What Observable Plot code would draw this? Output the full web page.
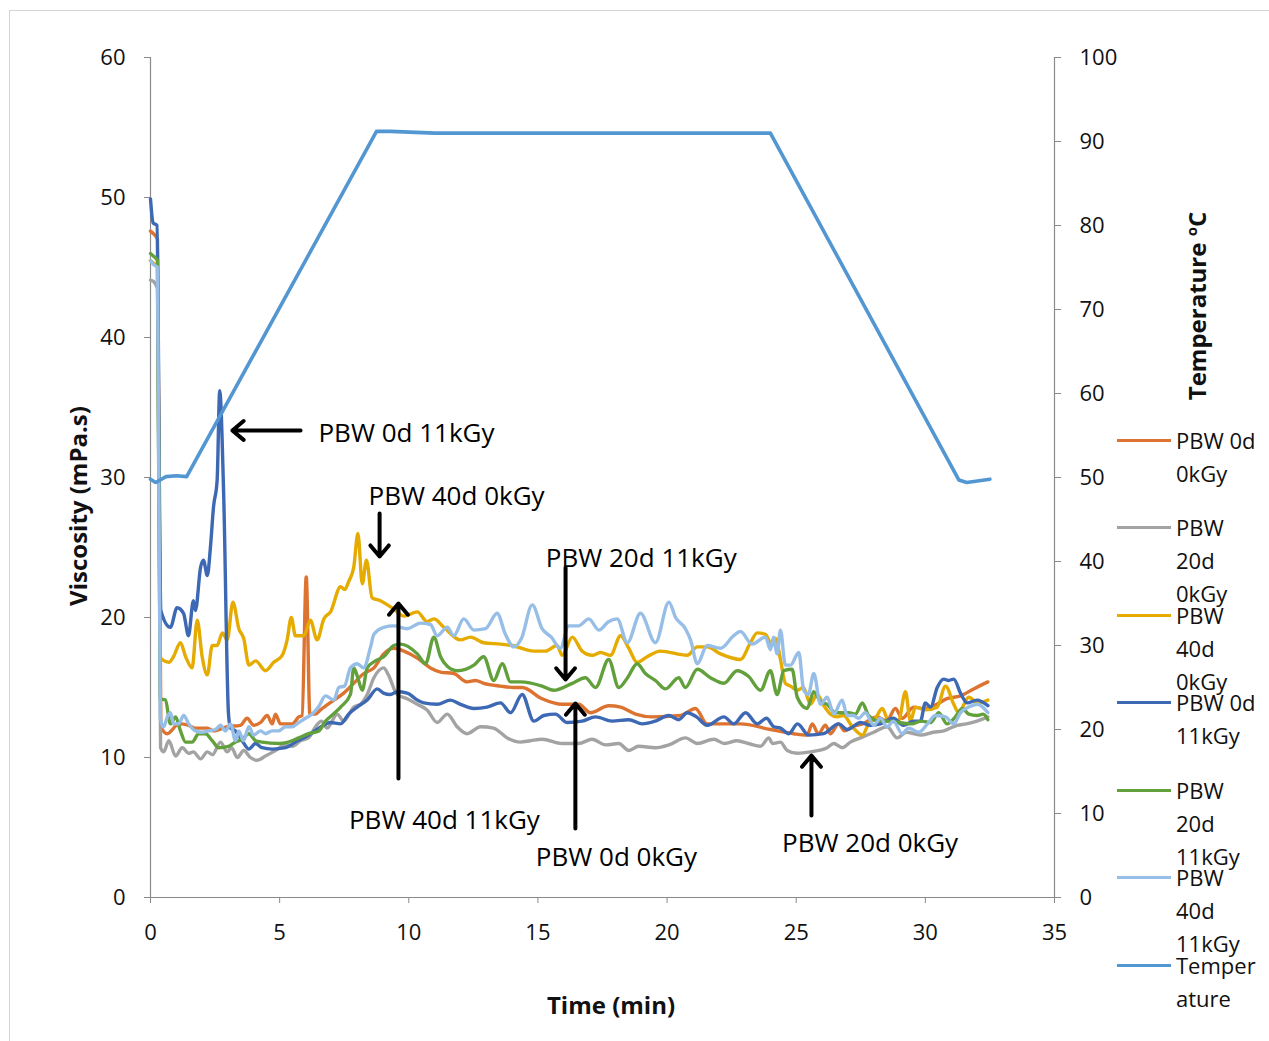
<!DOCTYPE html>
<html><head><meta charset="utf-8">
<script src="https://cdn.jsdelivr.net/npm/d3@7"></script>
<script src="https://cdn.jsdelivr.net/npm/@observablehq/plot@0.6"></script>
<style>
body{margin:0;background:#fff;font-family:"Open Sans",sans-serif;color:#111;}
#wrap{position:relative;width:1269px;height:1041px;overflow:hidden;}
#border{position:absolute;left:9px;top:10px;width:1280px;height:1050px;border:1px solid #d4d4d4;box-sizing:border-box;}
#chart{position:absolute;left:0;top:0;}
.ttl{position:absolute;font-weight:bold;font-size:24px;white-space:nowrap;line-height:1;}
.leg{position:absolute;left:1117px;}
.leg .sw{position:absolute;left:0;width:54px;height:3px;}
.leg .tx{position:absolute;left:59px;font-size:22px;line-height:33px;white-space:nowrap;}
</style></head>
<body>
<div id="wrap">
<div id="border"></div>
<div id="chart"></div>
<div class="ttl" id="ytitle" style="left:78px;top:506px;transform:translate(-50%,-50%) rotate(-90deg);">Viscosity (mPa.s)</div>
<div class="ttl" id="xtitle" style="left:611px;top:1005px;transform:translate(-50%,-50%);">Time (min)</div>
<div class="ttl" id="y2title" style="left:1196px;top:306px;transform:translate(-50%,-50%) rotate(-90deg);">Temperature <sup style="font-size:15px">o</sup>C</div>
<div id="legend"></div>
</div>
<script>
// ---- data ----
const seriesNames = ["PBW 0d 0kGy","PBW 20d 0kGy","PBW 40d 0kGy","PBW 0d 11kGy","PBW 20d 11kGy","PBW 40d 11kGy"];
const seriesColors = ["#DD7331","#A3A3A3","#E5AB00","#3D68B4","#62A03C","#96BEE6"];
const legendLabels = ["PBW 0d<br>0kGy","PBW<br>20d<br>0kGy","PBW<br>40d<br>0kGy","PBW 0d<br>11kGy","PBW<br>20d<br>11kGy","PBW<br>40d<br>11kGy","Temper<br>ature"];
const tempColor = "#5296D2";

const pbw0d0k = [[0,47.6],[0.12,47.4],[0.27,47],[0.4,12.2],[0.65,11.7],[1.1,12.4],[1.48,12.3],[1.74,12.1],[2.2,12.1],[2.44,11.9],[2.97,12.2],[3.48,12.3],[3.74,12.8],[4.0,12.3],[4.26,12.5],[4.52,13.0],[4.71,12.4],[4.84,13.1],[5.03,12.4],[5.49,12.4],[5.74,12.9],[5.87,13.0],[6.03,22.9],[6.17,13.1],[6.39,13.1],[6.58,13.4],[7.1,14.1],[7.48,14.6],[7.87,15.3],[8.26,16.0],[8.65,16.4],[9.03,17.4],[9.42,17.8],[9.81,17.6],[10.33,17.1],[10.84,16.4],[11.23,16.1],[11.74,16.0],[12.26,15.4],[12.58,15.5],[12.9,15.3],[13.55,15.1],[14.07,15.0],[14.39,15.0],[15.16,14.2],[15.94,13.8],[16.58,13.8],[17.03,13.2],[17.74,13.7],[18.2,13.6],[18.78,13.1],[19.42,12.9],[20.52,13.0],[21.1,13.5],[21.55,12.4],[22.84,12.4],[24.0,12.0],[24.9,11.7],[25.42,11.6],[25.62,12.4],[25.86,11.7],[26.13,12.3],[26.33,11.7],[26.64,12.4],[26.87,11.9],[27.17,12.2],[27.57,12.4],[28.13,12.9],[28.5,12.6],[28.84,13.5],[29.1,12.8],[29.55,13.6],[29.93,13.5],[30.33,13.7],[30.84,14.2],[31.36,14.4],[31.87,14.9],[32.42,15.4]];

const pbw20d0k = [[0,44.1],[0.12,44.0],[0.27,43.5],[0.39,10.7],[0.51,10.4],[0.71,11.2],[0.97,10.1],[1.23,10.7],[1.48,10.3],[1.66,10.4],[1.94,9.9],[2.2,10.4],[2.4,10.2],[2.71,11.1],[2.97,10.4],[3.14,10.7],[3.36,10.0],[3.61,10.5],[3.87,10.0],[4.13,9.8],[4.45,10.1],[4.84,10.5],[5.23,10.9],[5.5,10.8],[5.81,11.2],[6.12,11.4],[6.39,12.2],[6.62,12.6],[6.84,12.1],[7.23,13.1],[7.48,12.6],[7.87,13.6],[8.13,13.8],[8.39,14.5],[8.65,15.7],[9.03,16.4],[9.21,15.9],[9.55,14.5],[9.94,14.2],[10.33,13.8],[10.71,13.4],[11.1,12.5],[11.49,13.1],[11.87,12.2],[12.26,11.7],[12.78,12.2],[13.28,12.1],[13.81,11.4],[14.32,11.1],[14.71,11.2],[15.16,11.3],[15.94,11.0],[16.58,11.0],[17.1,11.3],[17.62,10.9],[18.13,11.0],[18.52,10.5],[18.9,10.8],[19.55,10.7],[20.07,10.9],[20.71,11.4],[21.17,11.0],[21.81,11.3],[22.22,11.0],[22.71,11.2],[23.15,11.0],[23.62,10.8],[23.94,11.4],[24.08,11.0],[24.39,11.1],[24.65,10.5],[25.04,10.3],[25.55,10.4],[26.2,10.7],[26.45,11.0],[26.79,10.7],[27.1,11.1],[27.49,11.4],[28.0,11.8],[28.52,12.2],[28.91,11.4],[29.27,11.8],[29.81,11.6],[30.31,11.8],[30.71,11.9],[31.23,12.3],[31.59,12.4],[32.0,12.6],[32.42,12.9]];

const pbw40d0k = [[0,45.5],[0.12,45.3],[0.27,45],[0.38,17.2],[0.45,17.0],[0.71,16.8],[0.89,17.2],[1.16,18.2],[1.36,17.2],[1.61,16.4],[1.81,19.8],[2.0,17.2],[2.2,15.9],[2.39,18.0],[2.58,18.0],[2.78,18.9],[2.97,18.4],[3.19,21.1],[3.42,19.2],[3.61,18.5],[3.81,16.6],[4.07,16.9],[4.45,16.2],[4.77,16.8],[5.1,17.3],[5.29,18.4],[5.45,20.0],[5.61,18.7],[5.94,18.7],[6.19,19.8],[6.45,18.4],[6.71,19.9],[6.97,20.4],[7.36,22.2],[7.52,22.0],[7.68,22.6],[7.87,23.6],[8.03,26.0],[8.2,22.4],[8.36,24.1],[8.58,21.4],[8.9,21.2],[9.42,20.6],[9.81,20.1],[10.33,20.4],[10.71,19.7],[10.97,19.9],[11.36,19.3],[12.0,18.4],[12.39,18.6],[12.9,18.2],[13.55,18.1],[14.0,18.0],[14.84,17.6],[15.29,17.6],[15.74,18.0],[15.94,17.3],[16.33,18.6],[16.71,17.6],[17.1,17.3],[17.42,17.5],[17.81,17.3],[18.2,18.7],[18.52,17.8],[18.84,16.8],[19.23,17.2],[19.74,17.6],[20.78,17.3],[21.17,17.9],[21.55,17.9],[22.07,17.4],[22.84,17.0],[23.23,18.2],[23.49,18.9],[23.81,18.8],[24.07,18.0],[24.2,18.5],[24.39,17.0],[24.58,15.3],[24.78,15.1],[25.04,14.8],[25.28,15.0],[25.55,13.8],[25.81,14.5],[26.07,13.7],[26.33,13.1],[26.58,12.9],[26.83,13.0],[27.17,12.2],[27.56,11.6],[27.8,12.4],[28.07,12.8],[28.33,13.5],[28.58,12.6],[28.96,12.6],[29.23,14.7],[29.42,12.6],[29.62,13.6],[30.0,13.4],[30.46,13.6],[30.78,15.1],[31.1,13.8],[31.29,13.2],[31.68,14.3],[32.02,13.9],[32.42,14.1]];

const pbw0d11k = [[0,49.9],[0.1,48.2],[0.25,48.0],[0.4,20.5],[0.77,19.3],[1.03,20.7],[1.28,20.3],[1.47,18.7],[1.66,21.2],[1.74,20.5],[1.94,23.6],[2.05,24.1],[2.2,23.0],[2.32,25.0],[2.44,27.9],[2.58,29.8],[2.68,36.2],[2.83,29.0],[3.02,13.1],[3.1,12.1],[3.29,11.9],[3.55,11.2],[3.81,10.6],[4.07,11.0],[4.32,10.7],[4.71,10.6],[5.23,10.7],[5.61,11.1],[6.13,11.6],[6.52,12.1],[6.97,12.5],[7.36,12.4],[7.67,13.1],[8.0,13.6],[8.39,14.1],[8.78,14.9],[9.02,14.6],[9.29,14.5],[9.55,14.7],[9.94,14.6],[10.33,14.1],[10.58,13.9],[11.1,13.8],[11.61,14.1],[12.0,13.8],[12.52,13.5],[13.03,13.6],[13.55,13.9],[13.94,13.2],[14.39,14.5],[14.84,12.6],[15.23,13.0],[15.68,13.1],[16.13,12.5],[16.71,12.6],[17.23,12.9],[17.87,12.6],[18.52,12.7],[19.04,12.4],[19.55,12.6],[20.07,13.0],[20.45,12.7],[20.78,13.2],[21.14,12.9],[21.55,12.3],[22.2,12.9],[22.58,12.4],[23.04,13.2],[23.49,12.4],[23.85,12.8],[24.13,12.2],[24.39,12.1],[24.71,11.7],[25.05,12.4],[25.48,11.6],[26.06,11.7],[26.64,12.4],[26.98,12.0],[27.49,12.5],[27.87,12.3],[28.26,12.4],[28.76,12.8],[29.15,12.3],[29.54,12.6],[29.81,12.6],[30.0,13.9],[30.2,13.6],[30.46,15.0],[30.71,15.6],[30.9,15.5],[31.1,15.6],[31.36,14.6],[31.62,13.9],[32.0,14.1],[32.42,13.7]];

const pbw20d11k = [[0,46.0],[0.12,45.8],[0.27,45.5],[0.38,14.2],[0.58,14.1],[0.77,12.4],[0.97,12.9],[1.16,11.9],[1.36,11.1],[1.61,11.1],[1.87,11.7],[2.13,11.7],[2.39,11.2],[2.64,10.7],[3.02,10.8],[3.29,11.1],[3.55,11.3],[3.81,11.7],[4.07,11.2],[4.32,11.1],[4.97,11.0],[5.34,11.1],[5.74,11.4],[6.12,11.7],[6.52,11.9],[6.78,12.6],[7.08,13.1],[7.36,13.6],[7.74,14.5],[7.87,16.4],[8.01,15.8],[8.2,14.8],[8.39,16.4],[8.71,16.9],[9.03,17.2],[9.42,18.0],[9.68,18.1],[10.33,17.4],[10.65,16.7],[10.97,18.6],[11.23,17.2],[11.5,16.5],[11.87,16.2],[12.52,16.6],[12.9,17.2],[13.29,15.5],[13.62,16.7],[13.94,15.4],[14.32,15.4],[15.16,15.1],[15.61,14.8],[16.33,15.3],[16.84,15.7],[17.23,15.0],[17.74,17.0],[18.13,15.0],[18.47,15.7],[18.84,16.7],[19.16,16.0],[19.55,15.5],[19.94,14.9],[20.45,15.7],[20.71,15.0],[21.17,16.3],[21.68,15.7],[22.2,15.3],[22.71,16.2],[23.15,15.8],[23.62,14.8],[24.0,16.2],[24.26,14.5],[24.52,16.2],[24.84,16.3],[25.04,14.3],[25.42,13.5],[25.68,14.7],[25.94,14.0],[26.2,13.8],[26.52,13.2],[27.03,13.2],[27.29,13.1],[27.56,13.9],[27.8,13.0],[28.2,12.6],[28.57,12.6],[28.97,12.5],[29.46,12.4],[29.85,12.6],[30.2,12.5],[30.52,13.2],[30.84,12.4],[31.16,12.9],[31.43,13.5],[31.68,13.1],[32.0,13.0],[32.24,13.1],[32.42,12.7]];

const pbw40d11k = [[0,45.5],[0.12,45.2],[0.27,45.0],[0.38,12.8],[0.51,12.2],[0.65,12.9],[0.77,13.2],[0.9,12.4],[1.08,12.4],[1.29,13.0],[1.48,12.4],[1.74,11.9],[2.0,11.8],[2.24,11.9],[2.52,12.0],[2.71,12.3],[2.9,11.9],[3.1,12.4],[3.29,11.2],[3.42,11.9],[3.6,11.2],[3.81,12.2],[3.99,11.6],[4.26,11.9],[4.45,11.7],[4.71,11.9],[4.96,11.9],[5.23,12.2],[5.49,12.2],[5.74,12.5],[6.0,12.8],[6.26,13.1],[6.5,13.6],[6.78,14.4],[7.1,14.1],[7.29,15.0],[7.51,15.1],[7.74,16.4],[8.0,16.7],[8.25,16.4],[8.52,17.9],[8.65,18.8],[9.03,19.3],[9.42,19.4],[9.94,19.2],[10.45,19.6],[10.84,19.5],[11.1,18.7],[11.49,19.3],[11.74,18.7],[12.13,19.9],[12.52,19.1],[12.97,19.2],[13.42,20.3],[13.74,18.8],[14.07,17.9],[14.36,18.5],[14.78,20.9],[15.16,19.2],[15.52,18.6],[15.87,17.8],[16.19,19.4],[16.57,19.4],[16.97,19.9],[17.36,19.1],[17.73,19.7],[18.07,19.9],[18.46,18.2],[18.97,20.3],[19.55,18.2],[20.07,21.1],[20.33,20.0],[20.71,19.2],[20.91,18.4],[21.17,16.7],[21.55,18.0],[22.07,17.8],[22.58,18.7],[22.84,19.0],[23.29,18.1],[23.81,18.6],[24.0,17.7],[24.12,18.6],[24.26,17.4],[24.39,19.1],[24.58,16.6],[24.78,16.6],[25.1,17.5],[25.29,14.8],[25.47,14.5],[25.68,16.0],[25.94,13.8],[26.2,14.3],[26.45,13.1],[26.78,14.1],[26.97,13.0],[27.22,13.0],[27.41,12.8],[27.68,13.2],[28.0,12.3],[28.26,12.8],[28.52,12.2],[28.76,12.6],[29.1,11.7],[29.35,12.1],[29.75,11.8],[30.08,12.4],[30.39,13.0],[30.78,12.9],[31.1,12.4],[31.36,13.2],[31.68,13.6],[32.02,13.8],[32.42,13.2]];

const temperature = [[0,49.8],[0.2,49.4],[0.6,50.1],[1.0,50.2],[1.4,50.1],[8.75,91.2],[9.3,91.2],[11,91.0],[24.0,91.0],[31.3,49.7],[31.6,49.4],[32.5,49.8]];

const xTicks = [0,5,10,15,20,25,30,35];
const yTicks = [0,10,20,30,40,50,60];
const tempTicks = [0,10,20,30,40,50,60,70,80,90,100];

// annotation labels (data coordinates: time, viscosity; label centre)
const noteText = ["PBW 0d 11kGy","PBW 40d 0kGy","PBW 20d 11kGy","PBW 40d 11kGy","PBW 0d 0kGy","PBW 20d 0kGy"];
const noteTextT = [9.91,11.85,19.0,11.38,18.04,27.86];
const noteTextV = [33.14,28.64,24.21,5.5,2.86,3.86];
const arrowT1 = [5.81,8.87,16.07,9.6,16.45,25.59];
const arrowV1 = [33.36,27.43,23.57,8.5,4.93,5.86];
const arrowT2 = [3.17,8.87,16.07,9.6,16.45,25.59];
const arrowV2 = [33.36,24.36,15.57,21.0,13.86,10.14];

// ---- build ----
const T2V = 60/100; // temperature axis mapped onto viscosity axis
const allSeries = [pbw0d0k,pbw20d0k,pbw40d0k,pbw0d11k,pbw20d11k,pbw40d11k];
const rows = allSeries.flatMap((s,i)=>s.map(([t,v])=>({name:seriesNames[i],t,v})));
const tempRows = temperature.map(([t,T])=>({t,T}));
const notes = noteText.map((text,i)=>({text,t:noteTextT[i],v:noteTextV[i]}));
const arrows = arrowT1.map((t1,i)=>({t1,v1:arrowV1[i],t2:arrowT2[i],v2:arrowV2[i]}));
const axisGray = "#8a8a8a";

const chart = Plot.plot({
  width:1269, height:1041,
  marginLeft:150, marginRight:215, marginTop:57, marginBottom:144,
  x:{domain:[0,35]},
  y:{domain:[0,60]},
  color:{domain:seriesNames, range:seriesColors},
  style:{fontFamily:"'Open Sans', sans-serif", fontSize:"22px", color:"#111", background:"transparent", overflow:"visible"},
  marks:[
    Plot.ruleY([0],{stroke:axisGray,strokeWidth:1.2}),
    Plot.ruleX([0],{stroke:axisGray,strokeWidth:1.2}),
    Plot.ruleX([35],{stroke:axisGray,strokeWidth:1.2}),
    Plot.axisX(xTicks,{anchor:"bottom",tickSize:6,tickPadding:21,stroke:axisGray,fill:"#111",fontSize:22,label:null}),
    Plot.axisY(yTicks,{anchor:"left",tickSize:6,tickPadding:19,stroke:axisGray,fill:"#111",fontSize:22,label:null}),
    Plot.axisY(tempTicks.map(d=>d*T2V),{anchor:"right",tickSize:6,tickPadding:19,stroke:axisGray,fill:"#111",fontSize:22,label:null,tickFormat:d=>String(Math.round(d/T2V))}),
    Plot.line(rows,{x:"t",y:"v",z:"name",stroke:"name",strokeWidth:3.4,curve:"monotone-x"}),
    Plot.line(tempRows,{x:"t",y:d=>d.T*T2V,stroke:tempColor,strokeWidth:3.6,strokeLinejoin:"round"}),
    Plot.arrow(arrows,{x1:"t1",y1:"v1",x2:"t2",y2:"v2",stroke:"#000",strokeWidth:4,headLength:5.5,headAngle:80}),
    Plot.text(notes,{x:"t",y:"v",text:"text",fontSize:26,fill:"#000"})
  ]
});
document.getElementById("chart").appendChild(chart);

// legend
const legendColors = [...seriesColors, tempColor];
const legendY = [440,527.5,615,702.5,790,877.5,965];
const lg = document.getElementById("legend");
legendLabels.forEach((lab,i)=>{
  const d = document.createElement("div");
  d.className="leg"; d.style.top = legendY[i]+"px";
  d.innerHTML = `<div class="sw" style="top:-1.5px;background:${legendColors[i]}"></div><div class="tx" style="top:-16.5px">${lab}</div>`;
  lg.appendChild(d);
});
</script>
</body></html>
